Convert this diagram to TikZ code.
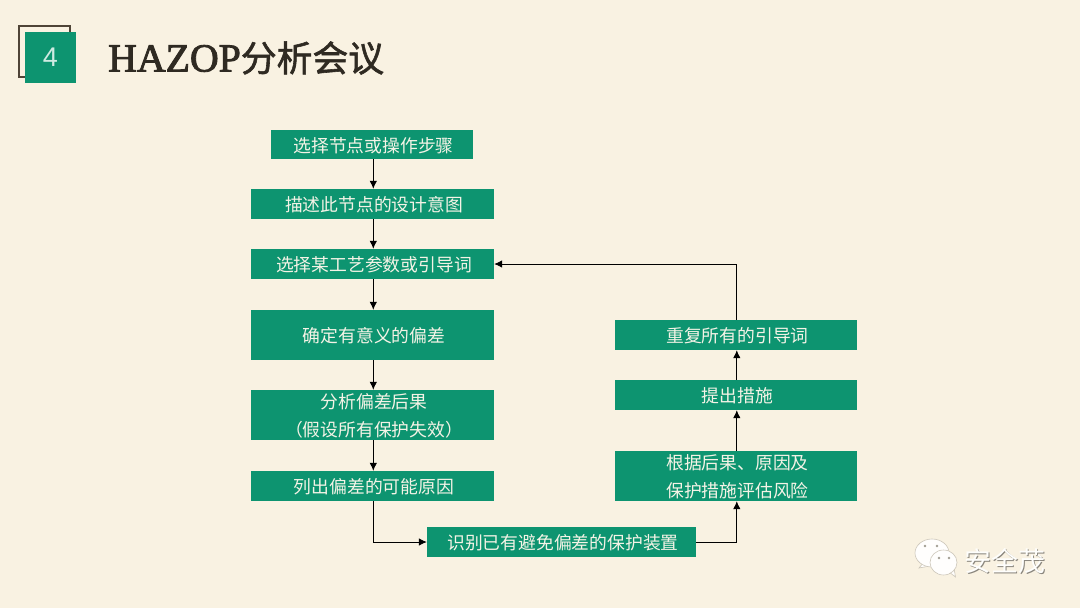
\documentclass[tikz,border=0pt]{standalone}
\usepackage{fontspec}
\usetikzlibrary{arrows.meta}
\setmainfont{Liberation Sans}
\newfontfamily\cjk{Noto Sans CJK SC}
\newfontfamily\ttl[FakeBold=2.2]{Liberation Serif}
\newfontfamily\cjktitle[FakeBold=1.6]{Noto Sans CJK SC}
\definecolor{bgc}{HTML}{F9F2E2}
\definecolor{grn}{HTML}{0D9470}
\definecolor{dk}{HTML}{2F2A22}
\definecolor{frame}{HTML}{4F4437}
\definecolor{boxtxt}{HTML}{F4F3E6}
\tikzset{
 stepbox/.style={fill=grn,draw=none,inner sep=0pt},
 steptext/.style={inner sep=0pt,text=boxtxt,align=center,font=\cjk\fontsize{17.8}{27.5}\selectfont},
 flow/.style={draw=black,line width=0.8pt,-{Latex[length=8pt,width=7.5pt]}},
 bubble/.style={fill=white!92!bgc,draw=black!18!bgc,line width=0.6pt},
}
\newcommand{\stepnode}[6]{\node[stepbox,minimum width=#4 pt - #3 pt,minimum height=#6 pt - #5 pt] (#1) at ({(#3+#4)/2},{(#5+#6)/2}) {};
\node[steptext,xshift=1.5pt,yshift=-0.8pt] (#1t) at (#1.center) {#2};}
\begin{document}
\begin{tikzpicture}[x=1pt,y=-1pt]
\useasboundingbox (0,0) rectangle (1080,608);
\fill[bgc] (0,0) rectangle (1080,608);
% badge
\node[draw=frame,line width=2.4pt,fill=none,minimum width=51pt,minimum height=51pt,inner sep=0pt] (badgeback) at (44.5,51.5) {};
\node[fill=grn,minimum width=51pt,minimum height=51pt,inner sep=0pt,text=white!80!grn,font=\fontsize{27}{27}\selectfont] (badge) at (50.5,57) {4};
\node[anchor=west,inner sep=0pt,text=dk] (title) at (108,58) {{\ttl\fontsize{39.8}{39.8}\selectfont HAZOP}{\cjktitle\fontsize{35.8}{37}\selectfont 分析会议}};
% boxes
\stepnode{a}{选择节点或操作步骤}{271}{473}{130}{159}
\stepnode{b}{描述此节点的设计意图}{251}{494}{189}{219}
\stepnode{c}{选择某工艺参数或引导词}{251}{494}{249}{279}
\stepnode{d}{确定有意义的偏差}{251}{494}{310}{360}
\stepnode{e}{分析偏差后果\\（假设所有保护失效）}{251}{494}{390}{440}
\stepnode{f}{列出偏差的可能原因}{251}{494}{471}{501}
\stepnode{g}{识别已有避免偏差的保护装置}{427}{696}{527}{557}
\stepnode{h}{根据后果、原因及\\保护措施评估风险}{615}{857}{451}{501}
\stepnode{i}{提出措施}{615}{857}{380}{410}
\stepnode{j}{重复所有的引导词}{615}{857}{320}{350}
\draw[flow] ([xshift=1.3pt]a.south) -- ([xshift=.8pt]b.north);
\draw[flow] ([xshift=.8pt]b.south) -- ([xshift=.8pt]c.north);
\draw[flow] ([xshift=.8pt]c.south) -- ([xshift=.8pt]d.north);
\draw[flow] ([xshift=.8pt]d.south) -- ([xshift=.8pt]e.north);
\draw[flow] ([xshift=.8pt]e.south) -- ([xshift=.8pt]f.north);
\draw[flow] ([xshift=.8pt]f.south) |- (g.west);
\draw[flow] (g.east) -| ([xshift=.8pt]h.south);
\draw[flow] ([xshift=.8pt]h.north) -- ([xshift=.8pt]i.south);
\draw[flow] ([xshift=.8pt]i.north) -- ([xshift=.8pt]j.south);
\draw[flow] ([xshift=.8pt]j.north) |- (c.east);
% watermark
\draw[bubble] (924,562) -- (919,568) -- (930,566) -- cycle;
\filldraw[bubble] (932,553) ellipse (17pt and 14pt);
\fill[black!35!bgc] (925,546) circle (1.4pt) (937,546) circle (1.4pt);
\draw[bubble] (949,572) -- (955.5,577) -- (954,568) -- cycle;
\filldraw[bubble] (943.5,562.5) ellipse (13.5pt and 12.5pt);
\fill[black!35!bgc] (939,558) circle (1.3pt) (949,558) circle (1.3pt);
\node[inner sep=0pt,text=black!45!bgc,font=\cjk\fontsize{27}{27}\selectfont] (wmshadow) at (1005.8,561.8) {安全茂};
\node[inner sep=0pt,text=white!90!bgc,font=\cjk\fontsize{27}{27}\selectfont] (wm) at (1005,561) {安全茂};
\end{tikzpicture}
\end{document}
